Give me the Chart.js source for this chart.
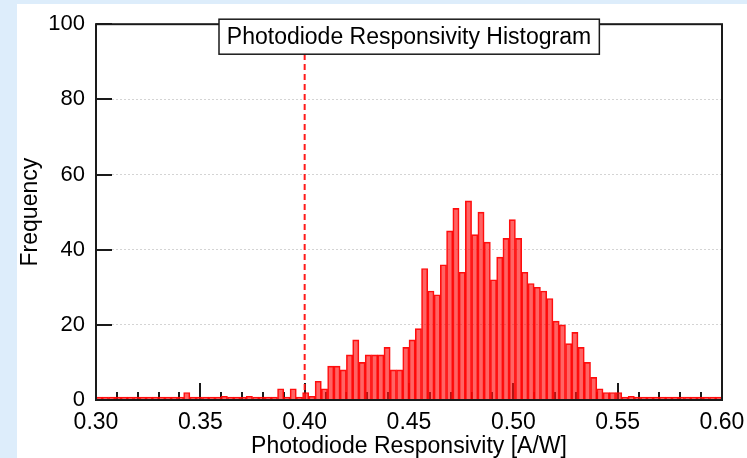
<!DOCTYPE html>
<html>
<head>
<meta charset="utf-8">
<script src="https://cdn.jsdelivr.net/npm/chart.js@4.4.1/dist/chart.umd.min.js"></script>
<style>
  html, body { margin: 0; padding: 0; width: 747px; height: 458px; overflow: hidden; background: #ddedfb; }
  #panel { position: absolute; left: 17px; top: 4px; right: 0; bottom: 0; background: #fff; }
  #wrap { position: absolute; left: 0; top: 0; width: 747px; height: 458px; }
</style>
</head>
<body>
<div id="panel"></div>
<div id="wrap"><canvas id="histChart" width="747" height="458"></canvas></div>
<script>
// histogram bins: 100 bins of 0.003 A/W from 0.300 to 0.600
const binStart = 0.300;
const binWidth = 0.003;
const counts = [
    0, 0, 0, 0, 0, 0, 0, 0, 0, 0,
    0, 0, 0, 0, 2, 0, 0, 0, 0, 0,
    1, 0, 0, 0, 1, 0, 0, 0, 0, 3,
    0, 3, 0, 2, 1, 5, 3, 9, 9, 8,
    12, 16, 10, 12, 12, 12, 14, 8, 8, 14,
    16, 19, 35, 29, 28, 36, 45, 51, 34, 53,
    44, 50, 42, 32, 38, 43, 48, 43, 34, 31,
    30, 29, 27, 21, 20, 15, 18, 14, 10, 6,
    3, 2, 2, 2, 0, 1, 0, 0, 0, 0,
    0, 0, 0, 0, 0, 0, 0, 0, 0, 0
];
const thresholdValue = 0.40;
const xMajorTicks = [0.30, 0.35, 0.40, 0.45, 0.50, 0.55, 0.60];
const xMinorStep = 0.01;
const yTicks = [0, 20, 40, 60, 80, 100];
const chartTitle = 'Photodiode Responsivity Histogram';
const xTitle = 'Photodiode Responsivity [A/W]';
const yTitle = 'Frequency';

const FONT = '"Liberation Sans", Arial, sans-serif';

const binCenters = counts.map((_, i) => +(binStart + binWidth * (i + 0.5)).toFixed(4));

// inward ticks, frame and boxed title
const framePlugin = {
    id: 'framePlugin',
    beforeDatasetsDraw(chart) {
        const { ctx, chartArea: a, scales: { x, y } } = chart;
        ctx.save();
        ctx.strokeStyle = '#1a1a1a';
        ctx.lineWidth = 2;
        ctx.beginPath();
        yTicks.forEach(v => {
            const py = Math.round(y.getPixelForValue(v));
            ctx.moveTo(a.left, py);
            ctx.lineTo(a.left + 16, py);
        });
        const nMinor = Math.round((x.max - x.min) / xMinorStep);
        for (let k = 0; k <= nMinor; k++) {
            const v = x.min + k * xMinorStep;
            const major = xMajorTicks.some(t => Math.abs(t - v) < 1e-6);
            const px = Math.round(x.getPixelForValue(v));
            ctx.moveTo(px, a.bottom);
            ctx.lineTo(px, a.bottom - (major ? 17 : 8));
        }
        ctx.stroke();
        ctx.restore();
    },
    afterDraw(chart) {
        const { ctx, chartArea: a } = chart;
        ctx.save();
        ctx.strokeStyle = '#1a1a1a';
        ctx.lineWidth = 2;
        ctx.strokeRect(a.left, a.top, a.right - a.left, a.bottom - a.top);

        ctx.font = '23px ' + FONT;
        const tw = ctx.measureText(chartTitle).width;
        const bw = tw + 16, bh = 35;
        const cx = (a.left + a.right) / 2;
        const bx = Math.round(cx - bw / 2), by = a.top - 5;
        ctx.fillStyle = '#fff';
        ctx.fillRect(bx, by, bw, bh);
        ctx.lineWidth = 1.5;
        ctx.strokeRect(bx, by, bw, bh);
        ctx.fillStyle = '#000';
        ctx.textAlign = 'center';
        ctx.textBaseline = 'middle';
        ctx.fillText(chartTitle, cx, by + bh / 2 + 1);
        ctx.restore();
    }
};

new Chart(document.getElementById('histChart'), {
    type: 'bar',
    data: {
        datasets: [{
            type: 'line',
            data: [{ x: thresholdValue, y: yTicks[0] }, { x: thresholdValue, y: yTicks[yTicks.length - 1] }],
            borderColor: '#ff1a1a',
            borderWidth: 2,
            borderDash: [6, 4],
            pointRadius: 0,
            order: 0
        }, {
            type: 'bar',
            data: binCenters.map((c, i) => ({ x: c, y: counts[i] })),
            backgroundColor: 'rgba(255, 20, 20, 0.66)',
            borderColor: 'rgba(255, 0, 0, 0.95)',
            borderWidth: 1,
            barPercentage: 1,
            categoryPercentage: 1,
            minBarLength: 3,
            order: 1
        }]
    },
    options: {
        responsive: false,
        animation: false,
        layout: { padding: { left: 0, top: 23, right: 25, bottom: 0 } },
        plugins: { legend: { display: false }, tooltip: { enabled: false }, title: { display: false } },
        scales: {
            x: {
                type: 'linear',
                min: xMajorTicks[0],
                max: xMajorTicks[xMajorTicks.length - 1],
                offset: false,
                afterBuildTicks: scale => { scale.ticks = xMajorTicks.map(v => ({ value: v })); },
                afterFit: scale => {
                    scale.height = 58;
                    scale.paddingLeft = 0;
                    scale.paddingRight = 0;
                },
                grid: { display: false, drawTicks: false },
                border: { display: false },
                ticks: {
                    color: '#000',
                    font: { family: FONT, size: 23 },
                    padding: 9,
                    maxRotation: 0,
                    autoSkip: false,
                    callback: v => v.toFixed(2)
                },
                title: {
                    display: true,
                    text: xTitle,
                    color: '#000',
                    font: { family: FONT, size: 23, lineHeight: 1 },
                    padding: { top: 0, bottom: 0 }
                }
            },
            y: {
                min: yTicks[0],
                max: yTicks[yTicks.length - 1],
                afterBuildTicks: scale => { scale.ticks = yTicks.map(v => ({ value: v })); },
                afterFit: scale => { scale.width = 96; },
                grid: { color: '#d4d4d4', lineWidth: 1, drawTicks: false },
                border: { display: false, dash: [2, 2] },
                ticks: {
                    color: '#000',
                    font: { family: FONT, size: 22 },
                    padding: 11
                },
                title: {
                    display: true,
                    text: yTitle,
                    color: '#000',
                    font: { family: FONT, size: 23, lineHeight: 1 },
                    padding: { top: 19, bottom: 0 }
                }
            }
        }
    },
    plugins: [framePlugin]
});
</script>
</body>
</html>
